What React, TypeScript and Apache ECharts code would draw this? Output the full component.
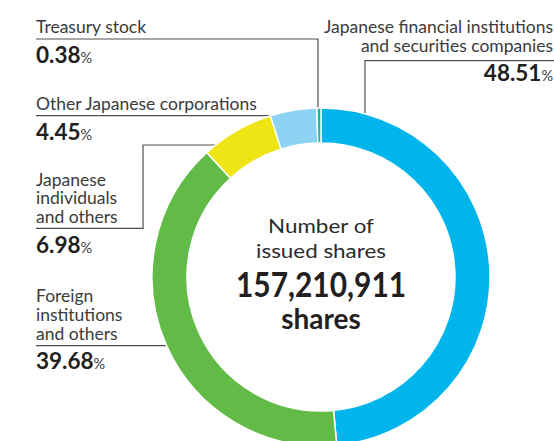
import React, { useEffect, useRef } from "react";
import * as echarts from "echarts";

const categories = [
  "Japanese financial institutions\nand securities companies",
  "Foreign\ninstitutions\nand others",
  "Japanese\nindividuals\nand others",
  "Other Japanese corporations",
  "Treasury stock",
];
const shares = [48.51, 39.68, 6.98, 4.45, 0.38];
const sliceColors = ["#00b5ec", "#62bb46", "#efe514", "#8dd4f4", "#1db3a2"];
const centerLines = ["Number of", "issued shares"];
const totalShares = "157,210,911";
const totalUnit = "shares";

const FONT = "Lato";
const NAME_LH = 18.6;
const NAME_FS = 17.5;

// label placement: x, align, first-line baseline, leader line points
const placements = [
  { x: 553, align: "right", base: 33.3, pts: [[554, 60.7], [365, 60.7], [365, 129]] },
  { x: 36, align: "left", base: 302.7, pts: [[36, 345.7], [185, 345.7]] },
  { x: 36, align: "left", base: 186, pts: [[36, 228.3], [143, 228.3], [143, 145], [250, 145]] },
  { x: 36, align: "left", base: 110, pts: [[36, 115.7], [290.5, 115.7]] },
  { x: 36, align: "left", base: 33.3, pts: [[36, 39], [318, 39], [318, 127]] },
];

export default function App() {
  const ref = useRef<HTMLDivElement>(null);
  useEffect(() => {
    document.body.style.margin = "0";
    const chart = echarts.init(ref.current!, null, { renderer: "svg" });
    const cx = 321;
    chart.setOption({
      animation: false,
      backgroundColor: "#ffffff",
      series: [
        {
          type: "pie",
          center: [321, 277],
          radius: [134, 169],
          startAngle: 90,
          clockwise: true,
          avoidLabelOverlap: false,
          silent: true,
          itemStyle: { borderColor: "#ffffff", borderWidth: 1.5 },
          data: shares.map((v, i) => ({
            value: v,
            name: categories[i],
            itemStyle: { color: sliceColors[i] },
            label: { align: placements[i].align },
          })),
          label: {
            show: true,
            position: "outside",
            fontFamily: FONT,
            formatter: (p: any) =>
              p.name
                .split("\n")
                .map((s: string) => `{n|${s}}`)
                .join("\n") + `\n{v|${p.value.toFixed(2)}}{p|%}`,
            rich: {
              n: { fontSize: NAME_FS, lineHeight: NAME_LH, color: "#3b3b3b", fontFamily: FONT },
              v: { fontSize: 22.5, fontWeight: "bold", lineHeight: 37, color: "#231f20", fontFamily: FONT },
              p: { fontSize: 14.5, lineHeight: 37, color: "#3b3b3b", fontFamily: FONT, padding: [6, 0, 0, 0] },
            },
          },
          labelLine: {
            show: true,
            lineStyle: { color: "#505050", width: 1.2 },
          },
          labelLayout: (params: any) => {
            const pl = placements[params.dataIndex];
            return {
              x: pl.x,
              y: pl.base - (NAME_LH / 2 + 0.387 * NAME_FS),
              align: pl.align,
              verticalAlign: "top",
              labelLinePoints: pl.pts,
            };
          },
        },
      ],
      graphic: [
        {
          type: "text",
          x: cx,
          y: 225.6,
          scaleX: 1.12,
          style: { text: centerLines[0], font: `20px ${FONT}`, fill: "#2b2b2b", textAlign: "center", textVerticalAlign: "middle" },
        },
        {
          type: "text",
          x: cx,
          y: 250.6,
          scaleX: 1.12,
          style: { text: centerLines[1], font: `20px ${FONT}`, fill: "#2b2b2b", textAlign: "center", textVerticalAlign: "middle" },
        },
        {
          type: "text",
          x: cx,
          y: 283.5,
          scaleX: 0.88,
          style: { text: totalShares, font: `bold 34px ${FONT}`, fill: "#231f20", textAlign: "center", textVerticalAlign: "middle" },
        },
        {
          type: "text",
          x: cx,
          y: 317.5,
          style: { text: totalUnit, font: `bold 28px ${FONT}`, fill: "#231f20", textAlign: "center", textVerticalAlign: "middle" },
        },
      ],
    });
    return () => chart.dispose();
  }, []);
  return <div ref={ref} style={{ width: 554, height: 441 }} />;
}
